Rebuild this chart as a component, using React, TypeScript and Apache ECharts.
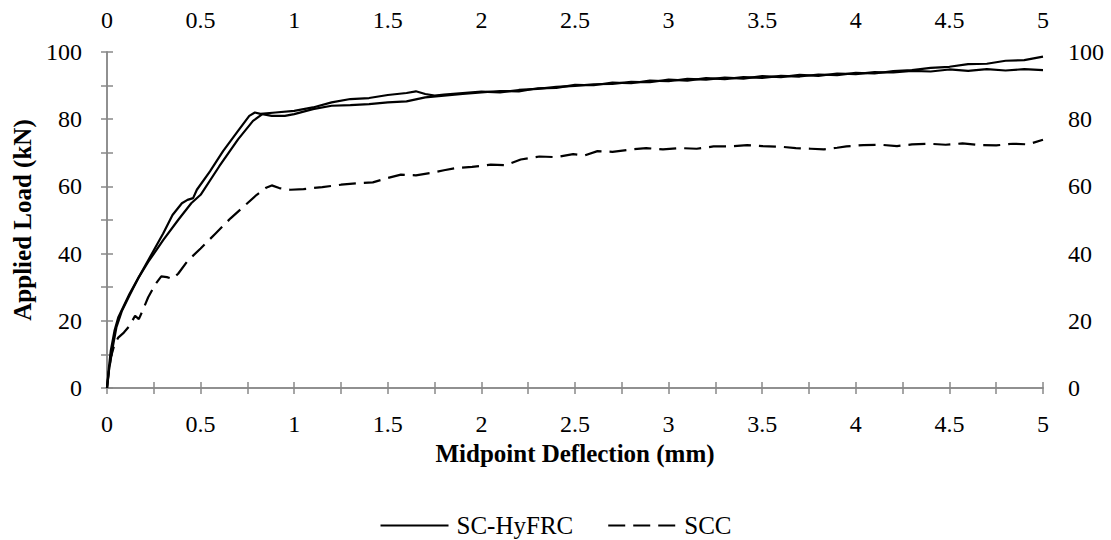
import React, { useEffect, useRef } from "react";
import * as echarts from "echarts";

// Midpoint deflection (mm) / applied load (kN)
const hy1Deflection = [0, 0.01, 0.02, 0.04, 0.06, 0.09, 0.12, 0.15, 0.2, 0.25, 0.3, 0.35, 0.4, 0.43, 0.46, 0.48, 0.55, 0.62, 0.7, 0.76, 0.79, 0.82, 0.9, 1.0, 1.1, 1.2, 1.3, 1.4, 1.5, 1.6, 1.65, 1.7, 1.75, 1.8, 1.9, 2.0, 2.1, 2.2, 2.3, 2.4, 2.5, 2.6, 2.7, 2.8, 2.9, 3.0, 3.1, 3.2, 3.3, 3.4, 3.5, 3.6, 3.7, 3.8, 3.9, 4.0, 4.1, 4.2, 4.3, 4.4, 4.5, 4.6, 4.7, 4.8, 4.9, 5.0];
const hy1Load = [0, 6, 11, 17, 21, 24.5, 28, 31, 36, 41, 46, 51.5, 55, 56, 56.5, 59, 64.5, 70.5, 76.5, 81, 82, 81.6, 82, 82.5, 83.5, 85, 86, 86.3, 87.2, 87.8, 88.3, 87.5, 87, 87.3, 87.8, 88.2, 88.0, 88.7, 89.0, 89.6, 89.9, 90.4, 90.5, 91.1, 91.0, 91.8, 91.5, 92.2, 91.9, 92.5, 92.3, 92.9, 92.7, 93.3, 93.1, 93.8, 93.6, 94.3, 94.6, 95.3, 95.6, 96.4, 96.5, 97.4, 97.6, 98.6];

const hy2Deflection = [0, 0.01, 0.03, 0.05, 0.08, 0.12, 0.17, 0.22, 0.3, 0.38, 0.45, 0.5, 0.6, 0.7, 0.78, 0.83, 0.88, 0.95, 1.0, 1.1, 1.2, 1.3, 1.4, 1.5, 1.6, 1.7, 1.8, 1.9, 2.0, 2.1, 2.2, 2.3, 2.4, 2.5, 2.6, 2.7, 2.8, 2.9, 3.0, 3.1, 3.2, 3.3, 3.4, 3.5, 3.6, 3.7, 3.8, 3.9, 4.0, 4.1, 4.2, 4.3, 4.4, 4.5, 4.6, 4.7, 4.8, 4.9, 5.0];
const hy2Load = [0, 5, 12, 18, 23, 27.5, 33, 37.5, 44, 50, 55, 57.5, 66, 74, 79.5, 81.5, 81, 81, 81.5, 83, 84, 84.2, 84.5, 85, 85.3, 86.5, 87, 87.5, 88.0, 88.4, 88.3, 89.2, 89.3, 90.2, 90.1, 90.9, 90.7, 91.5, 91.3, 92.0, 91.8, 92.4, 92.1, 92.8, 92.5, 93.2, 92.9, 93.6, 93.4, 94.0, 93.9, 94.4, 94.2, 94.8, 94.4, 94.9, 94.5, 94.9, 94.6];

const sccDeflection = [0, 0.01, 0.02, 0.04, 0.06, 0.09, 0.12, 0.15, 0.17, 0.19, 0.22, 0.26, 0.29, 0.32, 0.35, 0.38, 0.43, 0.5, 0.58, 0.66, 0.74, 0.8, 0.85, 0.88, 0.92, 0.98, 1.05, 1.15, 1.25, 1.35, 1.42, 1.5, 1.57, 1.65, 1.73, 1.8, 1.87, 1.95, 2.05, 2.13, 2.21, 2.31, 2.4, 2.49, 2.55, 2.62, 2.7, 2.8, 2.88, 2.97, 3.06, 3.15, 3.24, 3.33, 3.42, 3.5, 3.6, 3.68, 3.76, 3.83, 3.9, 3.95, 4.04, 4.13, 4.22, 4.3, 4.39, 4.48, 4.57, 4.66, 4.75, 4.84, 4.92, 5.0];
const sccLoad = [0, 5, 9, 13, 15, 16.5, 18.5, 21.5, 20.5, 23, 27, 31, 33.2, 33, 32.5, 34, 37.8, 41.5, 46, 50.5, 54.5, 57.5, 59.6, 60.3, 59.5, 59, 59.2, 59.8, 60.5, 61, 61.2, 62.5, 63.5, 63.3, 64, 64.8, 65.5, 65.8, 66.5, 66.3, 68, 68.9, 68.7, 69.6, 69.2, 70.5, 70.3, 71, 71.4, 71, 71.4, 71.2, 71.9, 71.9, 72.3, 72, 71.8, 71.4, 71.2, 71.0, 71.5, 71.9, 72.3, 72.4, 72.0, 72.5, 72.7, 72.4, 72.8, 72.3, 72.2, 72.7, 72.5, 73.9];

const seriesNames = ["SC-HyFRC", "SCC"];
const xTitle = "Midpoint Deflection (mm)";
const yTitle = "Applied Load (kN)";

const zip = (xs: number[], ys: number[]) => xs.map((x, i) => [x, ys[i]]);

const FONT = "Liberation Serif";
const AXIS_COLOR = "#898989";
const LABEL_SIZE = 24;
const TITLE_SIZE = 25;

export default function App() {
  const ref = useRef<HTMLDivElement>(null);
  useEffect(() => {
    if (!ref.current) return;
    const chart = echarts.init(ref.current, undefined, { renderer: "svg" });
    const axisLine = { show: true, lineStyle: { color: AXIS_COLOR, width: 1.5 } };
    const tick = { show: true, inside: false, length: 6, lineStyle: { color: AXIS_COLOR, width: 1.5 } };
    const labelBase = { color: "#000", fontFamily: FONT, fontSize: LABEL_SIZE };
    const xFmt = (v: number) => (Math.abs(v * 2 - Math.round(v * 2)) < 1e-6 ? String(v) : "");
    const yFmt = (v: number) => (Math.round(v) % 20 === 0 ? String(v) : "");
    const xCommon = {
      type: "value",
      min: 0,
      max: 5,
      interval: 0.25,
      axisLine,
      axisTick: tick,
      splitLine: { show: false },
    };
    const yCommon = {
      type: "value",
      min: 0,
      max: 100,
      interval: 10,
      axisLine,
      axisTick: tick,
      splitLine: { show: false },
    };
    chart.setOption({
      animation: false,
      backgroundColor: "#fff",
      grid: { left: 107, right: 68, top: 52, bottom: 152, containLabel: false },
      legend: {
        top: 508,
        left: "center",
        itemWidth: 68,
        itemHeight: 14,
        itemGap: 34,
        itemStyle: { opacity: 0 },
        textStyle: { color: "#000", fontFamily: FONT, fontSize: TITLE_SIZE, padding: [0, 0, 0, 3] },
        data: seriesNames,
      },
      xAxis: [
        {
          ...xCommon,
          position: "bottom",
          name: xTitle,
          nameLocation: "middle",
          nameGap: 52,
          nameTextStyle: { color: "#000", fontFamily: FONT, fontSize: TITLE_SIZE, fontWeight: "bold", verticalAlign: "top" },
          axisLabel: { ...labelBase, margin: 24, formatter: xFmt },
        },
        {
          ...xCommon,
          position: "top",
          axisLabel: { ...labelBase, margin: 20, formatter: xFmt },
        },
      ],
      yAxis: [
        {
          ...yCommon,
          position: "left",
          name: yTitle,
          nameLocation: "middle",
          nameGap: 71,
          nameRotate: 90,
          nameTextStyle: { color: "#000", fontFamily: FONT, fontSize: TITLE_SIZE, fontWeight: "bold" },
          axisLabel: { ...labelBase, margin: 25, formatter: yFmt },
        },
        {
          ...yCommon,
          position: "right",
          axisLabel: { ...labelBase, margin: 25, formatter: yFmt },
        },
      ],
      series: [
        {
          name: seriesNames[0],
          type: "line",
          data: zip(hy1Deflection, hy1Load),
          showSymbol: false,
          symbol: "none",
          lineStyle: { color: "#000", width: 2.2 },
          itemStyle: { color: "#000" },
        },
        {
          name: seriesNames[0],
          type: "line",
          data: zip(hy2Deflection, hy2Load),
          showSymbol: false,
          symbol: "none",
          lineStyle: { color: "#000", width: 2.2 },
          itemStyle: { color: "#000" },
        },
        {
          name: seriesNames[1],
          type: "line",
          data: zip(sccDeflection, sccLoad),
          showSymbol: false,
          symbol: "none",
          lineStyle: { color: "#000", width: 2.2, type: [17, 8] },
          itemStyle: { color: "#000" },
        },
      ],
    });
    return () => chart.dispose();
  }, []);
  return <div ref={ref} style={{ width: 1111, height: 540, position: "absolute", left: 0, top: 0 }} />;
}
